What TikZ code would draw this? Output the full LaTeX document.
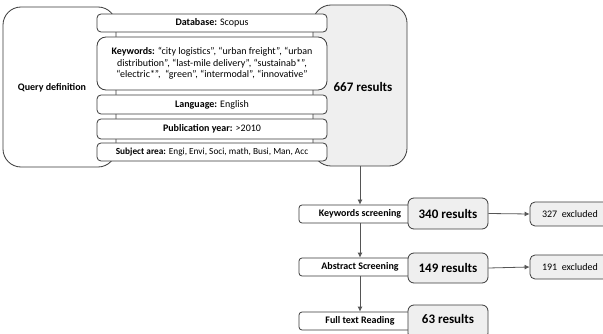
\documentclass[tikz,border=0pt]{standalone}
\usepackage{fontspec}
\setmainfont{Carlito}
\usetikzlibrary{arrows.meta}
\definecolor{edge}{HTML}{3A3A3A}
\definecolor{resfill}{HTML}{EFEFEF}
\definecolor{conn}{HTML}{555555}
\begin{document}
\begin{tikzpicture}[x=1pt,y=-1pt,
  box/.style={draw=edge,line width=0.8pt,fill=white,rounded corners=#1,inner sep=0pt},
  box/.default=4pt,
  resbox/.style={draw=edge,line width=0.8pt,fill=resfill,rounded corners=#1,inner sep=0pt},
  resbox/.default=6pt,
  txt/.style={font=\fontsize{10}{11.5}\selectfont,align=center},
  btxt/.style={font=\fontsize{10}{11.5}\selectfont\bfseries},
  big/.style={font=\fontsize{13}{15}\selectfont\bfseries},
  conn/.style={draw=conn,line width=0.8pt},
  arr/.style={conn,-{Latex[length=5pt,width=5pt]}}
]
\useasboundingbox (0,0) rectangle (603,334);
% big boxes
\node[box=18pt,minimum width=113,minimum height=160] (query) at (59.5,87) {};
\node[btxt] (qlabel) at (52,88) {Query definition};
\node[resbox=18pt,minimum width=94,minimum height=161] (r667) at (360,85.5) {};
\node[big] (l667) at (363,87) {667 results};
% stack
\node[box,minimum width=230,minimum height=18] (db) at (212,23) {};
\node[txt] at (db) {\textbf{Database:} Scopus};
\node[box=9pt,minimum width=230,minimum height=53] (kw) at (212,63.5) {};
\node[txt] at (kw) {\textbf{Keywords:} “city logistics”, “urban freight”, “urban\\distribution”, “last-mile delivery”, “sustainab*”,\\“electric*”, \ “green”, “intermodal”, “innovative”};
\node[box,minimum width=230,minimum height=19] (lang) at (212,104.5) {};
\node[txt] at (lang) {\textbf{Language:} English};
\node[box,minimum width=230,minimum height=20] (pub) at (212,129) {};
\node[txt] at (pub) {\textbf{Publication year:} >2010};
\node[box,minimum width=230,minimum height=18] (subj) at (212,152) {};
\node[txt,font=\fontsize{9.3}{11}\selectfont] at (subj) {\textbf{Subject area:} Engi, Envi, Soci, math, Busi, Man, Acc};
% screening column
\node[box=3pt,minimum width=122,minimum height=18] (ks) at (360,214) {};
\node[btxt] at (ks) {Keywords screening};
\node[resbox,minimum width=80,minimum height=31] (r340) at (448,213.5) {};
\node[big] at (r340) {340 results};
\node[resbox=5pt,minimum width=84,minimum height=24] (ex327) at (572,214) {};
\node[txt] at (570,214) {327 \ excluded};

\node[box=3pt,minimum width=122,minimum height=18] (as) at (360,267) {};
\node[btxt] at (as) {Abstract Screening};
\node[resbox,minimum width=80,minimum height=30] (r149) at (448,268) {};
\node[big] at (r149) {149 results};
\node[resbox=5pt,minimum width=84,minimum height=24] (ex191) at (572,267) {};
\node[txt] at (570,267) {191 \ excluded};

\node[box=3pt,minimum width=122,minimum height=18] (ft) at (360,321) {};
\node[btxt] at (ft) {Full text Reading};
\node[resbox,minimum width=80,minimum height=34] (r63) at (448,322) {};
\node[big] at (448,319) {63 results};

% arrows
\draw[arr] (r667.south) -- (ks.north);
\draw[arr] (ks.south) -- (as.north);
\draw[arr] (as.south) -- (ft.north);
\draw[arr] (r340.east) -- (ex327.west);
\draw[arr] (r149.east) -- (ex191.west);
\end{tikzpicture}
\end{document}
